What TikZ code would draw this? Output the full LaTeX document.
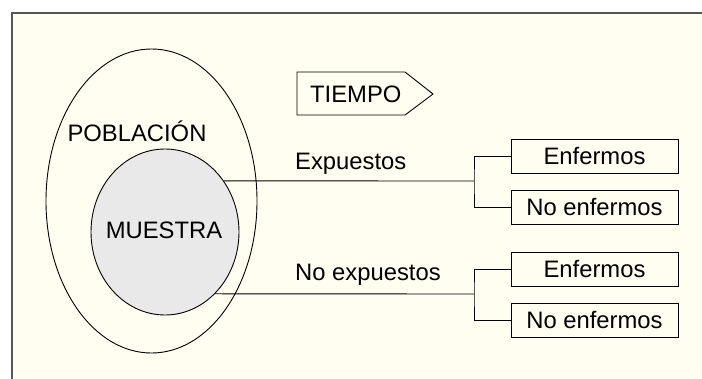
\documentclass[tikz,border=0pt]{standalone}
\usepackage{fontspec}
\setmainfont{Liberation Sans}
\usetikzlibrary{shapes.geometric}
\definecolor{cream}{HTML}{FFFEF0}
\definecolor{framegray}{HTML}{555555}
\definecolor{samplegray}{HTML}{E9E9E9}
\begin{document}
\begin{tikzpicture}[x=1pt,y=-1pt,
  txt/.style={font=\fontsize{23.8}{28}\selectfont, inner sep=0pt},
  outcome/.style={draw, line width=0.9pt, minimum width=167pt, minimum height=34pt, inner sep=0pt, font=\fontsize{23.8}{28}\selectfont},
  conn/.style={line width=0.9pt}]
\useasboundingbox (0,0) rectangle (702,378);
\fill[white] (0,0) rectangle (702,378);
\draw[framegray, line width=1.6pt, fill=cream] (12,13) rectangle (740,420);
% population ellipse
\node[ellipse, draw, line width=0.9pt, minimum width=211pt, minimum height=304pt, inner sep=0pt] (pob) at (151.5,201) {};
\node[txt] (pobtxt) at (137,131) {POBLACIÓN};
% sample circle
\node[ellipse, draw, line width=0.9pt, fill=samplegray, minimum width=148pt, minimum height=166pt, inner sep=0pt] (muestra) at (165,232) {};
\node[txt] (muetxt) at (164,230) {MUESTRA};
% tiempo arrow
\node[txt, anchor=west] (tiempo) at (310,94) {TIEMPO};
\draw[line width=0.9pt] (297,72) -- (405,72) -- (433,94) -- (405,115) -- (297,115) -- cycle;
% outcome boxes
\node[outcome] (e1) at (594.5,156) {Enfermos};
\node[outcome] (n1) at (594.5,207) {No enfermos};
\node[outcome] (e2) at (594.5,269) {Enfermos};
\node[outcome] (n2) at (594.5,320.5) {No enfermos};
% junctions
\coordinate (j1) at (474,181);
\coordinate (j2) at (474,294);
\draw[conn] (muestra.41) -- (j1);
\draw[conn] (muestra.-51.5) -- (j2);
\draw[conn] (e1.west) -| (j1) |- (n1.west);
\draw[conn] (e2.west) -| (j2) |- (n2.west);
% labels
\node[txt, anchor=west] (expl) at (295,164) {Expuestos};
\node[txt, anchor=west] (noexpl) at (295,275) {No expuestos};
\end{tikzpicture}
\end{document}
